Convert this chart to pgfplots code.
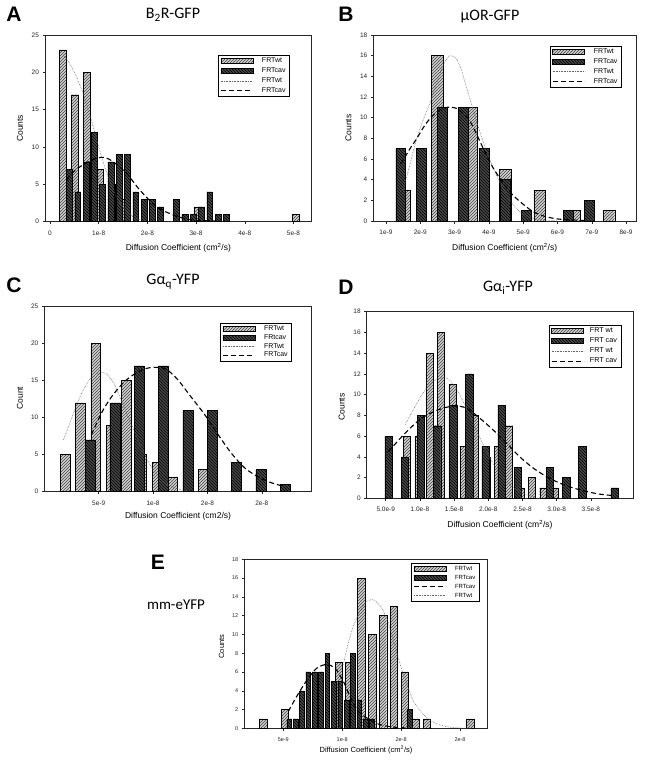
\documentclass[border=0pt]{standalone}
\usepackage{fontspec}
\setmainfont{Liberation Sans}
\newfontfamily\titlefont{Carlito}
\usepackage{pgfplots}
\pgfplotsset{compat=1.18}
\usetikzlibrary{patterns}
\definecolor{lightbar}{RGB}{210,210,210}
\definecolor{darkbar}{RGB}{72,72,72}
\newcommand{\lt}[1]{\makebox[25pt][l]{#1}}
\newcommand{\ltD}[1]{\makebox[29pt][l]{#1}}
\newcommand{\ltE}[1]{\makebox[22pt][l]{#1}}
\pgfplotsset{
  barleg/.style={legend image code/.code={\draw[##1] (0pt,-2.6pt) rectangle (32pt,2.6pt);}},
  lineleg/.style={legend image code/.code={\draw[##1] (0pt,0pt) -- (32pt,0pt);}},
  wtbar/.style={ybar, bar shift=0pt, bar width=#1, fill=lightbar, draw=black, line width=0.45pt, postaction={pattern=north east lines, pattern color=black!75}, barleg},
  cavbar/.style={ybar, bar shift=0pt, bar width=#1, fill=darkbar, draw=black, line width=0.45pt, postaction={pattern=north west lines, pattern color=black}, barleg},
  wtfit/.style={smooth, no markers, densely dotted, color=black!60, line width=0.6pt, lineleg},
  cavfit/.style={smooth, no markers, black, line width=1.1pt, dash pattern=on 5pt off 3pt, lineleg},
  panel/.style={
    scale only axis, axis line style={black!85, line width=0.6pt},
    tick align=outside, xtick pos=left, ytick pos=left,
    major tick length=2.5pt, tick style={black!85, line width=0.45pt},
    ymin=0, /pgf/number format/assume math mode=true,
    tick label style={font=\fontsize{6.5}{7}\selectfont, text=black!85},
    xticklabel style={yshift=-3pt},
    label style={font=\fontsize{8.5}{10}\selectfont},
    xlabel style={anchor=center}, ylabel style={anchor=center},
    legend style={draw=black, line width=0.5pt, fill=white, font=\fontsize{7}{8}\selectfont, inner sep=2pt, row sep=2.4pt, nodes={inner sep=0.6pt}, anchor=north east, /tikz/every odd column/.append style={column sep=8pt}},
    legend cell align=left,
  },
}
\begin{document}
\begin{tikzpicture}
\useasboundingbox (0,0) rectangle (645pt,-764pt);
% ---------------- Panel letters and titles
\node[font=\fontsize{21}{21}\selectfont\bfseries] at (14pt,-14pt) {A};
\node[font=\fontsize{21}{21}\selectfont\bfseries] at (346pt,-14pt) {B};
\node[font=\fontsize{21}{21}\selectfont\bfseries] at (14pt,-285pt) {C};
\node[font=\fontsize{21}{21}\selectfont\bfseries] at (346pt,-287pt) {D};
\node[font=\fontsize{21}{21}\selectfont\bfseries] at (158pt,-562pt) {E};
\node[font=\titlefont\fontsize{16}{16}\selectfont] at (173pt,-15pt) {B\textsubscript{2}R-GFP};
\node[font=\titlefont\fontsize{16}{16}\selectfont] at (490pt,-17pt) {μOR-GFP};
\node[font=\titlefont\fontsize{16}{16}\selectfont] at (173pt,-282pt) {Gα\textsubscript{q}-YFP};
\node[font=\titlefont\fontsize{16}{16}\selectfont] at (508pt,-288pt) {Gα\textsubscript{i}-YFP};
\node[font=\titlefont\fontsize{15}{15}\selectfont] at (176pt,-605pt) {mm-eYFP};

% ---------------- Panel A
\begin{axis}[panel, at={(45pt,-221.7pt)}, anchor=south west, width=266.7pt, height=186.7pt,
  xmin=-0.103, xmax=5.374, ymax=25, ytick={0,5,10,15,20,25},
  xtick={0,1,2,3,4,5}, xticklabels={0,1e-8,2e-8,3e-8,4e-8,5e-8},
  xlabel={Diffusion Coefficient (cm\textsuperscript{2}/s)}, ylabel={Counts},
  xlabel style={at={(axis description cs:0.5,-0.139)}},
  ylabel style={at={(axis description cs:-0.094,0.5)}},
  legend style={at={(0.918,0.893)}}]
\addplot[wtbar=0.15] coordinates {(0.26,23) (0.51,17) (0.76,20) (1.02,7) (1.27,5) (1.52,3) (3.03,2) (5.05,1)};
\addplot[cavbar=0.12] coordinates {(0.40,7) (0.57,4) (0.74,8) (0.91,12) (1.08,5) (1.25,8) (1.42,9) (1.59,9) (1.76,4) (1.93,3) (2.10,3) (2.26,2) (2.60,3) (2.77,1) (2.94,1) (3.11,2) (3.28,4) (3.45,1) (3.62,1)};
\addplot[wtfit] coordinates {(0.25,22.5) (0.4,21.2) (0.55,19.3) (0.7,16.8) (0.85,13.6) (1.0,10.0) (1.15,6.8) (1.3,4.2) (1.45,2.4) (1.6,1.2) (1.75,0.5) (1.9,0.2)};
\addplot[cavfit] coordinates {(0.34,5.6) (0.5,6.8) (0.75,7.9) (0.96,8.5) (1.13,8.6) (1.30,8.0) (1.57,6.5) (1.85,4.2) (2.19,2.0) (2.53,0.9) (2.81,0.35) (3.1,0.15) (3.5,0.1)};
\legend{\lt{FRTwt},\lt{FRTcav},\lt{FRTwt},\lt{FRTcav}}
\end{axis}

% ---------------- Panel B
\begin{axis}[panel, at={(373.3pt,-221pt)}, anchor=south west, width=262.7pt, height=186pt,
  xmin=0.63, xmax=8.29, ymax=18, ytick={0,2,...,18},
  xtick={1,2,...,8}, xticklabels={1e-9,2e-9,3e-9,4e-9,5e-9,6e-9,7e-9,8e-9},
  xlabel={Diffusion Coefficient (cm\textsuperscript{2}/s)}, ylabel={Counts},
  xlabel style={at={(axis description cs:0.5,-0.145)}},
  ylabel style={at={(axis description cs:-0.095,0.5)}},
  legend style={at={(0.9455,0.9425)}}]
\addplot[wtbar=0.34] coordinates {(1.55,3) (2.5,16) (3.5,11) (4.48,5) (5.48,3) (6.5,1) (7.5,1)};
\addplot[cavbar=0.29] coordinates {(1.43,7) (2.04,7) (2.65,11) (3.26,11) (3.87,7) (4.48,4) (5.09,1) (6.31,1) (6.92,2)};
\addplot[wtfit] coordinates {(1.5,3.0) (1.7,5.5) (1.9,8.0) (2.1,9.9) (2.28,11.4) (2.5,13.6) (2.7,15.3) (2.87,16.0) (3.05,15.7) (3.2,14.6) (3.35,12.9) (3.55,10.7) (3.74,8.6) (3.95,6.6) (4.13,5.1) (4.33,3.7) (4.52,2.5) (4.7,1.6) (4.9,0.9) (5.1,0.5) (5.3,0.25) (5.6,0.1) (6.0,0.03)};
\addplot[cavfit] coordinates {(1.43,5.5) (1.7,7.0) (1.9,8.0) (2.1,9.1) (2.28,9.9) (2.5,10.6) (2.77,11.0) (3.06,10.9) (3.24,10.4) (3.40,9.9) (3.57,8.9) (3.74,7.7) (3.94,6.3) (4.13,5.1) (4.33,4.1) (4.52,3.2) (4.7,2.5) (4.9,1.9) (5.1,1.35) (5.29,0.9) (5.5,0.6) (5.68,0.4) (6.0,0.2) (6.4,0.1) (6.9,0.05)};
\legend{\lt{FRTwt},\lt{FRTcav},\lt{FRTwt},\lt{FRTcav}}
\end{axis}

% ---------------- Panel C
\begin{axis}[panel, at={(44.3pt,-491.7pt)}, anchor=south west, width=267.4pt, height=185pt,
  xmin=0, xmax=24.59, ymax=25, ytick={0,5,10,15,20,25},
  xtick={5,10,15,20}, xticklabels={5e-9,1e-8,2e-8,2e-8},
  xlabel={Diffusion Coefficient (cm2/s)}, ylabel={Count},
  xlabel style={at={(axis description cs:0.5,-0.135)}},
  ylabel style={at={(axis description cs:-0.091,0.506)}},
  legend style={at={(0.926,0.912)}, row sep=1.2pt}]
\addplot[wtbar=0.89] coordinates {(1.90,5) (3.31,12) (4.72,20) (6.13,9) (7.54,15) (8.95,5) (10.36,4) (11.77,2) (14.59,3)};
\addplot[cavbar=0.92] coordinates {(4.24,7) (6.48,12) (8.72,17) (10.96,17) (13.20,11) (15.44,11) (17.68,4) (19.92,3) (22.16,1)};
\addplot[wtfit] coordinates {(1.75,7.0) (2.4,9.5) (3.0,11.8) (3.6,13.8) (4.2,15.2) (4.8,15.9) (5.4,16.1) (5.9,15.7) (6.4,14.6) (6.9,13.0) (7.4,11.2) (7.9,9.4) (8.4,7.8) (8.9,6.0) (9.4,4.5) (9.9,3.2) (10.4,2.2) (10.9,1.4) (11.4,0.9) (11.9,0.55) (12.5,0.3) (13.2,0.15)};
\addplot[cavfit] coordinates {(4.33,7.7) (5.25,10.6) (6.17,12.8) (7.39,14.9) (8.62,16.2) (9.5,16.7) (10.15,16.8) (11.0,16.7) (11.38,16.4) (12.3,15.1) (13.5,12.8) (14.76,10.4) (15.99,7.7) (17.2,5.2) (18.44,3.2) (19.67,2.0) (20.9,1.2) (22.1,0.7)};
\legend{\lt{FRTwt},\lt{FRtcav},\lt{FRTwt},\lt{FRTcav}}
\end{axis}

% ---------------- Panel D
\begin{axis}[panel, at={(366.7pt,-498.3pt)}, anchor=south west, width=266.6pt, height=186.6pt,
  xmin=2.22, xmax=41.2, ymax=18, ytick={0,2,...,18},
  xtick={5,10,...,35}, xticklabels={5.0e-9,1.0e-8,1.5e-8,2.0e-8,2.5e-8,3.0e-8,3.5e-8},
  xlabel={Diffusion Coefficient (cm\textsuperscript{2}/s)}, ylabel={Counts},
  xlabel style={at={(axis description cs:0.5,-0.143)}},
  ylabel style={at={(axis description cs:-0.094,0.49)}},
  legend style={at={(0.9565,0.929)}, font=\fontsize{7.2}{8}\selectfont, /tikz/every odd column/.append style={column sep=5pt}}]
\addplot[wtbar=1.02] coordinates {(8.11,6) (9.77,6) (11.43,14) (13.09,16) (14.75,11) (16.41,5) (18.07,8) (19.73,4) (21.39,5) (23.05,7) (24.71,1) (26.37,2) (28.03,1) (29.69,1)};
\addplot[cavbar=1.07] coordinates {(5.43,6) (7.79,4) (10.15,8) (12.51,7) (14.87,9) (17.23,12) (19.59,5) (21.95,9) (24.31,3) (29.03,3) (31.39,2) (33.75,5) (38.47,1)};
\addplot[wtfit] coordinates {(7.83,7.1) (9.0,8.5) (10.2,9.9) (11.4,11.0) (12.6,11.5) (13.9,11.6) (15.2,10.7) (16.5,9.1) (17.8,7.2) (19.1,5.4) (20.4,3.7) (21.7,2.4) (23.0,1.4) (24.3,0.8) (25.6,0.35) (27.0,0.1)};
\addplot[cavfit] coordinates {(5.38,4.5) (7.58,6.1) (10.0,7.6) (12.5,8.5) (14.89,8.9) (16.8,8.7) (18.8,7.7) (20.7,6.6) (22.7,5.3) (24.6,4.0) (26.6,2.9) (28.5,2.1) (30.5,1.45) (32.4,1.0) (34.4,0.65) (36.3,0.4) (38.3,0.26)};
\legend{\ltD{FRT wt},\ltD{FRT cav},\ltD{FRT wt},\ltD{FRT cav}}
\end{axis}

% ---------------- Panel E
\begin{axis}[panel, at={(244.3pt,-728.3pt)}, anchor=south west, width=243.4pt, height=169pt,
  xmin=1.69, xmax=22.35, ymax=18, ytick={0,2,...,18},
  xtick={5,10,15,20}, xticklabels={5e-9,1e-8,2e-8,2e-8},
  tick label style={font=\fontsize{5.5}{6}\selectfont},
  label style={font=\fontsize{7.5}{9}\selectfont},
  xlabel={Diffusion Coefficient (cm\textsuperscript{2}/s)}, ylabel={Counts},
  xlabel style={at={(axis description cs:0.5,-0.128)}},
  ylabel style={at={(axis description cs:-0.093,0.483)}},
  legend style={at={(0.968,0.978)}, font=\fontsize{6}{7}\selectfont, row sep=2.2pt}]
\addplot[wtbar=0.62] coordinates {(3.30,1) (5.15,2) (9.72,7) (10.6,7) (11.62,16) (12.55,10) (13.47,12) (14.40,13) (15.32,6) (16.25,1) (17.17,1) (20.87,1)};
\addplot[cavbar=0.40] coordinates {(5.50,1) (6.04,1) (6.58,4) (7.12,6) (7.66,6) (8.20,6) (8.74,8) (9.28,5) (9.82,5) (10.36,3) (10.90,8) (11.44,3) (11.98,1) (12.52,1) (15.76,2)};
\addplot[cavfit] coordinates {(5.43,1.8) (6.14,3.4) (6.99,5.1) (7.84,6.4) (8.68,6.8) (9.39,6.4) (10.1,5.0) (10.66,3.4) (11.37,1.8) (12.36,0.9) (13.2,0.4) (14.2,0.15) (15.3,0.05)};
\addplot[wtfit] coordinates {(10.1,6.8) (10.5,9.0) (10.94,10.8) (11.5,12.5) (12.08,13.5) (12.6,13.7) (13.2,13.1) (13.78,11.7) (14.34,9.4) (14.9,6.9) (15.48,4.8) (16.0,3.0) (16.6,1.9) (17.2,1.1) (18.0,0.5) (19.0,0.15) (20.0,0.03) (21.0,0)};
\legend{\ltE{FRTwt},\ltE{FRTcav},\ltE{FRTcav},\ltE{FRTwt}}
\end{axis}
\end{tikzpicture}
\end{document}
